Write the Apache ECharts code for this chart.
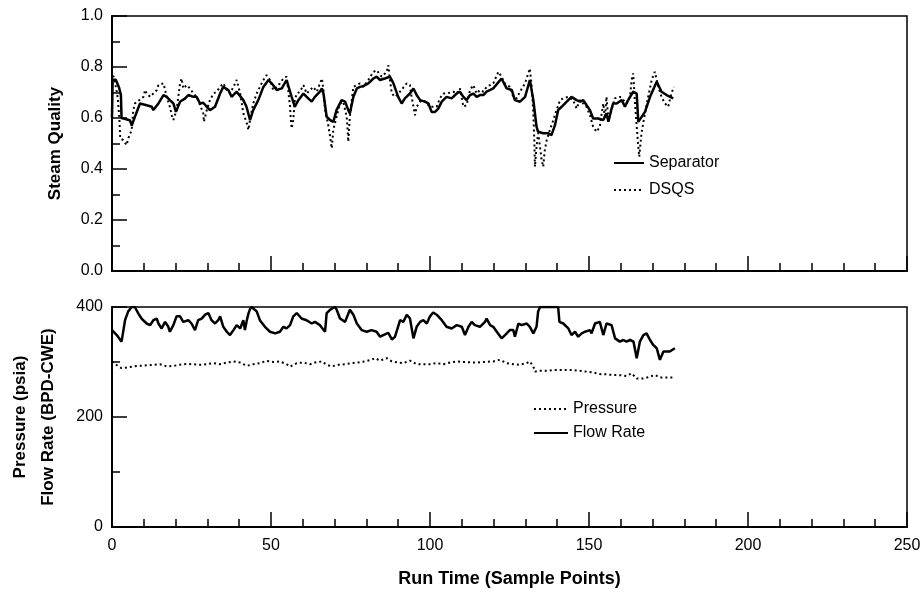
<!DOCTYPE html>
<html>
<head>
<meta charset="utf-8">
<script src="https://cdn.jsdelivr.net/npm/echarts@6/dist/echarts.min.js"></script>
<style>html,body{margin:0;padding:0;background:#fff}#c{width:924px;height:597px}</style>
</head>
<body>
<div id="c"></div>
<script>
// ---- Data ----
const separator = [[0,0.60],[0.2,0.75],[1.2,0.75],[2.2,0.72],[2.8,0.69],[3,0.60],[4.5,0.595],[5.7,0.59],[6.2,0.57],[7.2,0.605],[8.8,0.657],[10.9,0.65],[12.5,0.644],[13,0.631],[14.6,0.657],[16.2,0.69],[17.2,0.683],[18.2,0.67],[19.3,0.657],[20.1,0.624],[21.4,0.664],[23,0.677],[24,0.69],[25.6,0.683],[26.6,0.683],[27.7,0.657],[28.7,0.66],[29.8,0.644],[30.8,0.631],[32.4,0.644],[34,0.696],[35,0.722],[36.6,0.71],[37.6,0.683],[39.2,0.703],[41.3,0.67],[42.3,0.644],[43.4,0.592],[44.4,0.631],[46,0.67],[47.6,0.722],[49.2,0.749],[50.2,0.736],[51.8,0.71],[53.4,0.716],[54.9,0.749],[56.5,0.683],[57.5,0.644],[58.6,0.67],[60.2,0.696],[61.7,0.677],[62.8,0.664],[63.8,0.683],[65.4,0.703],[66,0.716],[66.5,0.696],[67.5,0.605],[68.6,0.592],[69.6,0.585],[70.6,0.631],[72.2,0.67],[73.3,0.664],[74.3,0.631],[74.8,0.618],[75.9,0.683],[77,0.716],[78,0.722],[79,0.725],[80.6,0.736],[82.2,0.755],[83.2,0.762],[84.3,0.749],[85.8,0.755],[87.4,0.762],[88.5,0.736],[90,0.683],[91.1,0.657],[92.1,0.677],[93.7,0.696],[94.8,0.716],[95.8,0.69],[96.9,0.67],[98.4,0.664],[99.5,0.657],[100.5,0.624],[101.6,0.624],[102.6,0.637],[103.7,0.664],[105.2,0.683],[106.8,0.677],[108.4,0.696],[109.4,0.703],[110.5,0.683],[111.5,0.67],[112.6,0.69],[113.6,0.696],[114.7,0.683],[115.7,0.69],[116.8,0.69],[117.8,0.703],[119.9,0.716],[122.5,0.755],[124.1,0.716],[125.7,0.71],[126.7,0.67],[128.3,0.664],[129.9,0.683],[131.4,0.749],[132.5,0.67],[133.5,0.566],[134,0.546],[135.6,0.54],[137.2,0.54],[138.2,0.533],[139.3,0.572],[140.3,0.631],[141.4,0.644],[143,0.664],[144.5,0.683],[146.1,0.67],[147.2,0.664],[148.2,0.67],[149.2,0.651],[150.3,0.631],[151.3,0.598],[152.9,0.598],[154.5,0.592],[155.5,0.618],[156.1,0.585],[157.1,0.637],[157.6,0.657],[158.7,0.657],[160.3,0.67],[161.3,0.644],[162.3,0.67],[163.9,0.703],[165,0.696],[165.5,0.585],[166,0.592],[167.6,0.624],[169.2,0.683],[171.3,0.742],[172.8,0.703],[174.4,0.69],[176.5,0.677]];

const dsqs = [[0,0.50],[0,0.78],[0.8,0.75],[1.8,0.68],[2.3,0.6],[2.6,0.52],[3.5,0.513],[4.6,0.494],[5.1,0.52],[6.2,0.553],[6.7,0.631],[7.2,0.657],[9.9,0.683],[10.4,0.71],[10.9,0.696],[12,0.683],[13,0.696],[14.1,0.71],[14.6,0.729],[16.2,0.736],[16.7,0.71],[17.2,0.683],[18.2,0.644],[18.8,0.611],[19.3,0.592],[20.3,0.631],[21.4,0.736],[21.9,0.755],[22.4,0.716],[23.5,0.729],[24.5,0.716],[25.6,0.696],[26.6,0.683],[27.7,0.651],[28.7,0.618],[28.9,0.585],[29.8,0.631],[30.8,0.67],[31.9,0.696],[32.9,0.703],[34,0.722],[35,0.736],[36.1,0.71],[37.1,0.696],[38.2,0.722],[39.2,0.749],[40.3,0.696],[40.8,0.657],[41.3,0.618],[42.4,0.579],[42.9,0.553],[43.4,0.592],[44.4,0.657],[45.5,0.696],[46.5,0.722],[47.6,0.749],[48.6,0.768],[49.7,0.749],[50.7,0.71],[51.8,0.722],[52.8,0.736],[53.9,0.755],[54.9,0.762],[55.4,0.71],[56,0.644],[56.2,0.598],[56.5,0.559],[57,0.592],[57.5,0.67],[58.1,0.696],[59.1,0.703],[60.2,0.729],[61.2,0.696],[62.3,0.71],[63.3,0.722],[64.4,0.703],[66,0.755],[66.5,0.71],[67,0.631],[68,0.572],[68.6,0.526],[69.1,0.481],[69.6,0.553],[70.6,0.605],[71.7,0.657],[72.7,0.664],[73.8,0.605],[74.1,0.553],[74.3,0.507],[74.8,0.605],[75.4,0.67],[75.9,0.722],[77,0.729],[78,0.736],[79,0.722],[80.6,0.749],[82.2,0.781],[83.2,0.788],[84.8,0.762],[86.4,0.781],[86.9,0.807],[87.4,0.749],[88,0.696],[89,0.683],[90.1,0.696],[92.7,0.736],[93.7,0.729],[94.2,0.683],[94.8,0.644],[95.3,0.611],[95.8,0.644],[96.9,0.664],[97.9,0.67],[100,0.644],[102.1,0.644],[103.1,0.677],[104.2,0.696],[105.2,0.696],[107.3,0.703],[108.4,0.696],[109.4,0.716],[110.5,0.644],[111.5,0.651],[112.6,0.71],[113.6,0.729],[114.7,0.696],[115.7,0.71],[116.8,0.703],[117.8,0.722],[119.9,0.736],[121.5,0.781],[122.5,0.762],[123.5,0.736],[125.1,0.722],[126.2,0.683],[127.2,0.677],[128.3,0.703],[129.9,0.736],[130.9,0.775],[131.4,0.794],[132,0.722],[132.5,0.618],[132.8,0.513],[133,0.409],[133.5,0.487],[134,0.54],[134.6,0.487],[135.1,0.435],[135.6,0.409],[136.1,0.474],[136.7,0.513],[137.7,0.553],[138.8,0.592],[139.8,0.631],[140.9,0.67],[141.9,0.677],[143.5,0.683],[145,0.67],[146.1,0.637],[147.1,0.67],[149.2,0.644],[150.3,0.611],[151.3,0.566],[152.4,0.546],[153.4,0.566],[154,0.618],[154.5,0.657],[155,0.598],[155.5,0.683],[156.1,0.592],[157.1,0.631],[158.1,0.677],[159.7,0.683],[160.8,0.67],[161.8,0.657],[162.9,0.683],[163.4,0.749],[163.9,0.775],[164.4,0.67],[165,0.566],[165.5,0.487],[165.8,0.448],[166.5,0.54],[167.6,0.618],[168.6,0.683],[169.7,0.749],[170.7,0.781],[171.8,0.722],[172.8,0.683],[173.9,0.657],[174.9,0.644],[175.9,0.696],[176.7,0.722]];

const flowRate = [[0,358],[1.5,349],[3,337],[3.6,358],[4.1,376],[5.1,392],[6.2,400],[7.2,400],[8.3,388],[9.3,379],[10.9,370],[12,367],[13,376],[14.1,379],[14.6,370],[15.6,361],[16.7,373],[17.7,364],[18.2,355],[19.3,367],[20.3,383],[21.4,383],[22.4,373],[23,370],[24,376],[25,370],[26.1,358],[27.1,376],[28.2,379],[29.3,386],[30.3,389],[31.3,376],[32.4,370],[33.4,376],[34,383],[35,364],[36.1,355],[37.1,349],[38.2,358],[39.2,367],[40.3,361],[41.3,376],[41.8,358],[42.4,376],[42.9,388],[43.4,396],[43.9,400],[44.5,400],[45.5,392],[46.5,376],[48.1,364],[49.7,355],[51.3,352],[52.8,355],[53.9,364],[54.9,361],[56,367],[57,383],[58.1,389],[59.6,379],[61.2,376],[62.8,370],[63.8,373],[65.4,367],[67,355],[67.5,389],[68.6,395],[69.1,392],[70.1,400],[70.6,396],[71.7,379],[73.3,373],[74.8,395],[75.9,386],[77,370],[78.5,358],[80.1,355],[81.6,358],[83.2,355],[84.3,346],[85.3,349],[86.9,353],[88,341],[89,346],[90.6,376],[91.6,373],[92.7,386],[93.7,379],[94.8,343],[95.8,364],[96.9,373],[97.9,376],[99,370],[100,383],[101,390],[102.1,386],[103.7,376],[105.2,364],[106.8,361],[108.4,367],[110,364],[111,349],[112.1,364],[113.1,373],[114.1,367],[115.7,364],[117.3,373],[117.8,379],[118.9,367],[119.9,364],[121,355],[122.5,343],[123.6,349],[125.1,358],[126.2,358],[126.7,346],[127.8,370],[128.8,367],[130.4,370],[131.4,364],[132.5,352],[133.5,364],[134,392],[134.6,400],[137,400],[140.3,400],[140.7,373],[141.9,370],[143.5,361],[144.5,349],[145.6,355],[146.6,346],[147.7,352],[148.7,355],[150.3,358],[150.8,352],[151.9,370],[153.4,373],[154.5,349],[155.5,370],[157.1,367],[158.2,343],[159.7,337],[160.8,340],[161.8,337],[162.9,340],[164,337],[165,307],[166,337],[167.1,349],[168.1,352],[169.2,340],[170.2,331],[171.3,325],[172.3,304],[173.4,319],[175.4,319],[177,325]];

const pressure = [[0,301],[2,292],[3,289],[4.6,290],[6.7,292],[8.8,293],[10.9,294],[13,295],[15.1,296],[17.2,292],[19.3,293],[21.4,295],[23.5,296.4],[25.6,296],[27.7,295],[29.8,296],[31.9,298],[34,296],[36.1,299],[38.2,301],[40.3,299],[42.4,293],[44.4,296],[46.5,298],[48.6,302],[50.7,300],[52.8,301],[54.9,296],[56,291.5],[58.1,298],[60.2,299],[62.3,296],[63.8,299],[66,301],[67.5,295],[69.1,292],[71.2,295],[73.3,296],[75.4,298],[77.4,299],[79.5,301],[81.6,304],[82.7,307],[84.3,302.5],[86.4,307],[88,301],[90,299],[91.6,298],[93.7,302.5],[95.8,296],[97.9,296],[100,296],[102.1,298],[104.2,296],[106.3,299],[108.4,301],[110.5,300],[112.6,299.4],[114.7,299],[116.8,300],[118.9,301],[119.9,301],[122,304],[124.1,298],[126.2,296],[128.3,295],[130.4,298],[131.4,301],[132.5,292],[133,282.5],[134.6,284],[136.7,284],[138.8,285.5],[141,285.5],[143,285.5],[145,285.5],[147.1,284],[149.2,282.5],[151.3,281],[153.4,278],[155.5,277.5],[157.6,276.4],[159.7,276],[161.8,274.6],[163.4,279.4],[165,270],[167.1,270],[169.2,273.4],[170.7,276.4],[172.3,272],[174.4,272],[176.5,272]];

const xTicks = {min: 0, max: 250, interval: 50};
const qualityTicks = {min: 0, max: 1, interval: 0.2};
const flowTicks = {min: 0, max: 400, interval: 200};

// ---- Chart ----
const FONT = '"Liberation Sans", Arial, Helvetica, sans-serif';
const chart = echarts.init(document.getElementById('c'), null, {renderer: 'canvas'});

function axisCommon(extra) {
  return Object.assign({
    axisLine: {show: true, onZero: false, lineStyle: {color: '#000', width: 2}},
    axisTick: {show: true, inside: true, length: 15, lineStyle: {color: '#000', width: 1.5}},
    minorTick: {show: true, length: 8, lineStyle: {color: '#000', width: 1.5}},
    splitLine: {show: false},
    axisLabel: {color: '#000', fontFamily: FONT, fontSize: 16, margin: 9}
  }, extra);
}

const solid = {color: '#000', width: 2.5, type: 'solid'};
const dotted = {color: '#000', width: 2, type: [2, 3]};
const legendText = {color: '#000', fontFamily: FONT, fontSize: 16};

chart.setOption({
  backgroundColor: '#fff',
  animation: false,
  grid: [
    {id: 'g0', left: 112, right: 17, top: 16, height: 255, outerBoundsMode: 'none', containLabel: false, show: true, borderColor: '#000', borderWidth: 1.5, backgroundColor: 'transparent'},
    {id: 'g1', left: 112, right: 17, top: 307, height: 220, outerBoundsMode: 'none', containLabel: false, show: true, borderColor: '#000', borderWidth: 1.5, backgroundColor: 'transparent'}
  ],
  xAxis: [
    axisCommon({type: 'value', gridIndex: 0, min: xTicks.min, max: xTicks.max, interval: xTicks.interval,
      minorTick: {show: true, splitNumber: 5, length: 8, lineStyle: {color: '#000', width: 1.5}},
      axisLabel: {show: false}}),
    axisCommon({type: 'value', gridIndex: 1, min: xTicks.min, max: xTicks.max, interval: xTicks.interval,
      minorTick: {show: true, splitNumber: 5, length: 8, lineStyle: {color: '#000', width: 1.5}},
      axisLabel: {color: '#000', fontFamily: FONT, fontSize: 16, margin: 11},
      name: 'Run Time (Sample Points)', nameLocation: 'middle', nameGap: 43,
      nameTextStyle: {color: '#000', fontFamily: FONT, fontSize: 18, fontWeight: 'bold'}})
  ],
  yAxis: [
    axisCommon({type: 'value', gridIndex: 0, min: qualityTicks.min, max: qualityTicks.max, interval: qualityTicks.interval,
      minorTick: {show: true, splitNumber: 2, length: 8, lineStyle: {color: '#000', width: 1.5}},
      axisLabel: {color: '#000', fontFamily: FONT, fontSize: 16, margin: 9, formatter: v => v.toFixed(1)},
      name: 'Steam Quality', nameLocation: 'middle', nameGap: 48, nameRotate: 90,
      nameTextStyle: {color: '#000', fontFamily: FONT, fontSize: 17, fontWeight: 'bold'}}),
    axisCommon({type: 'value', gridIndex: 1, min: flowTicks.min, max: flowTicks.max, interval: flowTicks.interval,
      minorTick: {show: true, splitNumber: 2, length: 8, lineStyle: {color: '#000', width: 1.5}},
      axisLabel: {color: '#000', fontFamily: FONT, fontSize: 16, margin: 9},
      name: 'Pressure (psia)\nFlow Rate (BPD-CWE)', nameLocation: 'middle', nameGap: 50, nameRotate: 90,
      nameTextStyle: {color: '#000', fontFamily: FONT, fontSize: 17, fontWeight: 'bold', lineHeight: 28, align: 'center'}})
  ],
  legend: [
    {id: 'legTop', data: ['Separator', 'DSQS'], orient: 'vertical', left: 608, top: 150, itemWidth: 30, itemHeight: 14, itemGap: 11,
      itemStyle: {opacity: 0}, textStyle: legendText, selectedMode: false},
    {id: 'legBottom', data: ['Pressure', 'Flow Rate'], orient: 'vertical', left: 528, top: 396, itemWidth: 34, itemHeight: 14, itemGap: 8,
      itemStyle: {opacity: 0}, textStyle: legendText, selectedMode: false}
  ],
  series: [
    {name: 'Separator', type: 'line', xAxisIndex: 0, yAxisIndex: 0, data: separator, showSymbol: false, symbol: 'none', lineStyle: solid, itemStyle: {color: '#000'}, clip: true},
    {name: 'DSQS', type: 'line', xAxisIndex: 0, yAxisIndex: 0, data: dsqs, showSymbol: false, symbol: 'none', lineStyle: dotted, itemStyle: {color: '#000'}, clip: true},
    {name: 'Pressure', type: 'line', xAxisIndex: 1, yAxisIndex: 1, data: pressure, showSymbol: false, symbol: 'none', lineStyle: dotted, itemStyle: {color: '#000'}, clip: true},
    {name: 'Flow Rate', type: 'line', xAxisIndex: 1, yAxisIndex: 1, data: flowRate, showSymbol: false, symbol: 'none', lineStyle: solid, itemStyle: {color: '#000'}, clip: true}
  ]
});
</script>
</body>
</html>
